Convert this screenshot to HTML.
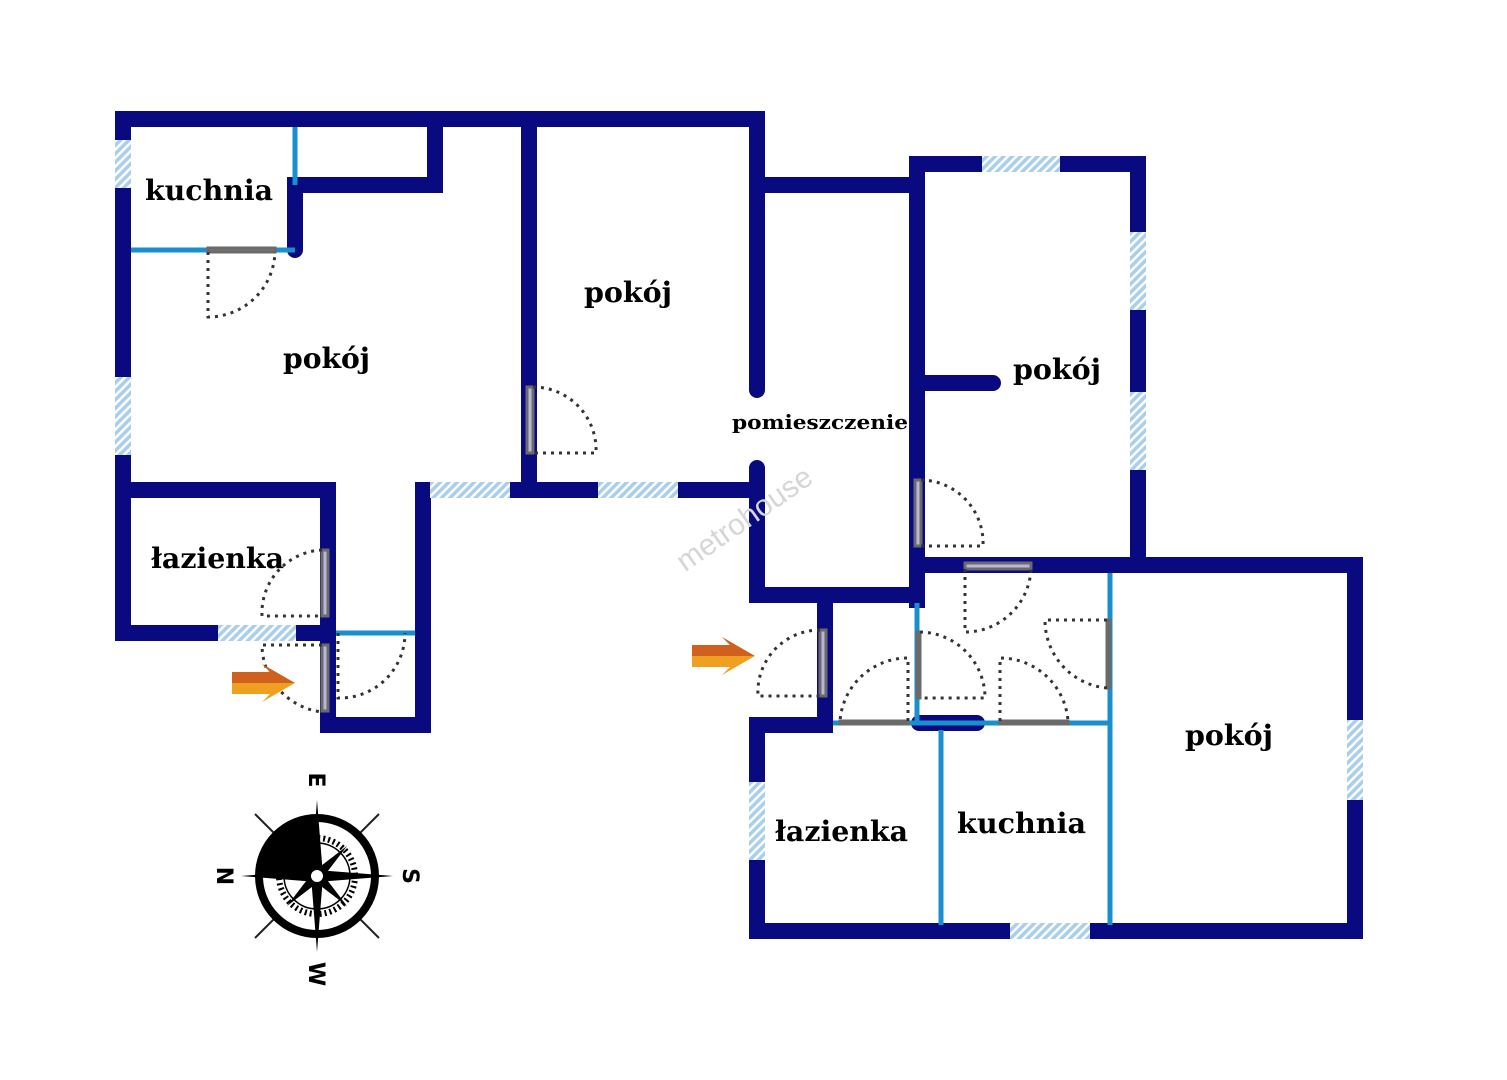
<!DOCTYPE html>
<html><head><meta charset="utf-8"><style>
html,body{margin:0;padding:0;background:#fff;}
svg{display:block;}
.t{font-family:"DejaVu Serif","Liberation Serif",serif;font-weight:bold;fill:#000;}
</style></head><body>
<svg width="1507" height="1080" viewBox="0 0 1507 1080" xmlns="http://www.w3.org/2000/svg">
<defs>
<pattern id="h" width="6" height="6" patternUnits="userSpaceOnUse" patternTransform="rotate(45)">
<rect width="6" height="6" fill="#a9cfea"/><rect width="2.5" height="6" fill="#fff"/>
</pattern>
</defs>
<g stroke="#0a0a80" stroke-width="16" fill="none" stroke-linecap="square">
<path d="M123 119 H757"/>
<path d="M123 119 V633"/>
<path d="M435 119 V185 H295 V250" stroke-linecap="round"/>
<path d="M529 119 V490"/>
<path d="M123 490 H328 V725 H423 V490 H757"/>
<path d="M123 633 H328"/>
<path d="M757 119 V390" stroke-linecap="round"/>
<path d="M757 468 V595 H917" stroke-linecap="round"/>
<path d="M757 185 H917"/>
<path d="M917 164 V600"/>
<path d="M917 164 H1138 V565"/>
<path d="M917 383 H993" stroke-linecap="round"/>
<path d="M917 565 H1355 V931 H757 V725 H825 V600"/>
<path d="M919 723 H977" stroke-linecap="round"/>
</g>
<g stroke="#1a8fcf" stroke-width="5" fill="none">
<path d="M295 127 V185"/>
<path d="M131 250 H295"/>
<path d="M336 633 H415"/>
<path d="M833 723 H1110"/>
<path d="M917 603 V723"/>
<path d="M941 730 V925"/>
<path d="M1110 573 V925"/>
</g>
<g fill="url(#h)">
<rect x="115" y="140" width="16" height="48"/>
<rect x="115" y="377" width="16" height="78"/>
<rect x="430" y="482" width="80" height="16"/>
<rect x="598" y="482" width="80" height="16"/>
<rect x="218" y="625" width="78" height="16"/>
<rect x="982" y="156" width="78" height="16"/>
<rect x="1130" y="232" width="16" height="78"/>
<rect x="1130" y="392" width="16" height="78"/>
<rect x="1347" y="720" width="16" height="80"/>
<rect x="1010" y="923" width="80" height="16"/>
<rect x="749" y="782" width="16" height="78"/>
</g>
<g fill="#b9b6d6" stroke="#6a6a6a" stroke-width="3">
<rect x="208" y="248" width="67" height="4" fill="#777"/>
<rect x="527" y="387" width="6" height="66"/>
<rect x="322" y="550" width="6" height="66"/>
<rect x="322" y="645" width="6" height="66"/>
<rect x="915" y="480" width="6" height="66"/>
<rect x="965" y="563" width="66" height="6"/>
<rect x="820" y="630" width="6" height="66"/>
<rect x="840" y="721" width="68" height="3" fill="#777"/>
<rect x="1000" y="721" width="68" height="3" fill="#777"/>
<rect x="917" y="632" width="3" height="66" fill="#777"/>
<rect x="1107" y="620" width="3" height="68" fill="#777"/>
</g>
<g stroke="#333" stroke-width="3" stroke-dasharray="3,5" fill="none">
<path d="M208 252 V317 A67 67 0 0 0 275 252"/>
<path d="M533 387 A63 63 0 0 1 596 453 H533"/>
<path d="M322 550 A63 63 0 0 0 262 616 H322"/>
<path d="M322 645 H262 A68 68 0 0 0 322 712"/>
<path d="M338 633 V698 A65 65 0 0 0 405 633"/>
<path d="M921 480 A63 63 0 0 1 983 546 H921"/>
<path d="M965 569 V632 A66 66 0 0 0 1031 569"/>
<path d="M820 630 A62 62 0 0 0 758 696 H820"/>
<path d="M908 721 V658 A68 68 0 0 0 840 721"/>
<path d="M920 632 A66 66 0 0 1 985 698 H920"/>
<path d="M1000 721 V658 A68 68 0 0 1 1068 721"/>
<path d="M1107 620 H1045 A68 68 0 0 0 1107 688"/>
</g>
<g>
<polygon points="232,672 270,672 262,664 295,683 262,702 270,694 232,694" fill="#f0a020"/>
<polygon points="232,672 270,672 262,664 295,683 232,683" fill="#c8501e" opacity="0.8"/>
<polygon points="692,645 730,645 722,637 755,656 722,675 730,667 692,667" fill="#f0a020"/>
<polygon points="692,645 730,645 722,637 755,656 692,656" fill="#c8501e" opacity="0.8"/>
</g>
<text class="t" x="145" y="200" font-size="28" textLength="128" lengthAdjust="spacingAndGlyphs">kuchnia</text>
<text class="t" x="283" y="368" font-size="28" textLength="87" lengthAdjust="spacingAndGlyphs">pokój</text>
<text class="t" x="584" y="302" font-size="28" textLength="88" lengthAdjust="spacingAndGlyphs">pokój</text>
<text class="t" x="732" y="429" font-size="20" textLength="176" lengthAdjust="spacingAndGlyphs">pomieszczenie</text>
<text class="t" x="1013" y="379" font-size="28" textLength="88" lengthAdjust="spacingAndGlyphs">pokój</text>
<text class="t" x="151" y="568" font-size="28" textLength="133" lengthAdjust="spacingAndGlyphs">łazienka</text>
<text class="t" x="1185" y="745" font-size="28" textLength="88" lengthAdjust="spacingAndGlyphs">pokój</text>
<text class="t" x="775" y="841" font-size="28" textLength="133" lengthAdjust="spacingAndGlyphs">łazienka</text>
<text class="t" x="957" y="833" font-size="28" textLength="129" lengthAdjust="spacingAndGlyphs">kuchnia</text>
<text x="750" y="527" font-family="Liberation Sans,sans-serif" font-size="30" fill="#d6d6d6" transform="rotate(-35 750 527)" text-anchor="middle">metrohouse</text>
<g transform="translate(317,876)">
<g stroke="#222" stroke-width="2"><line x1="-62" y1="-62" x2="62" y2="62"/><line x1="62" y1="-62" x2="-62" y2="62"/></g>
<circle r="58" fill="#fff" stroke="#000" stroke-width="8"/>
<path d="M0 0 L0 -58 A58 58 0 0 0 -58 0 Z" fill="#000"/>
<circle r="38" fill="none" stroke="#000" stroke-width="6" stroke-dasharray="2,3"/>
<circle r="33" fill="none" stroke="#000" stroke-width="1.5"/>
<g fill="#000">
<polygon points="0,-76 6,0 0,76 -6,0"/>
<polygon points="-76,0 0,-6 76,0 0,6"/>
<polygon points="-30,-30 4,-4 30,30 -4,4"/>
<polygon points="30,-30 4,4 -30,30 -4,-4"/>
</g>
<circle r="7" fill="#fff" stroke="#000" stroke-width="2"/>
</g>
<g font-family="DejaVu Sans,sans-serif" font-weight="bold" font-size="22" fill="#000" text-anchor="middle">
<text transform="translate(317,780) rotate(90)" dy="8">E</text>
<text transform="translate(225,876) rotate(90)" dy="8">N</text>
<text transform="translate(411,876) rotate(90)" dy="8">S</text>
<text transform="translate(317,974) rotate(90)" dy="8">W</text>
</g>
</svg>
</body></html>
